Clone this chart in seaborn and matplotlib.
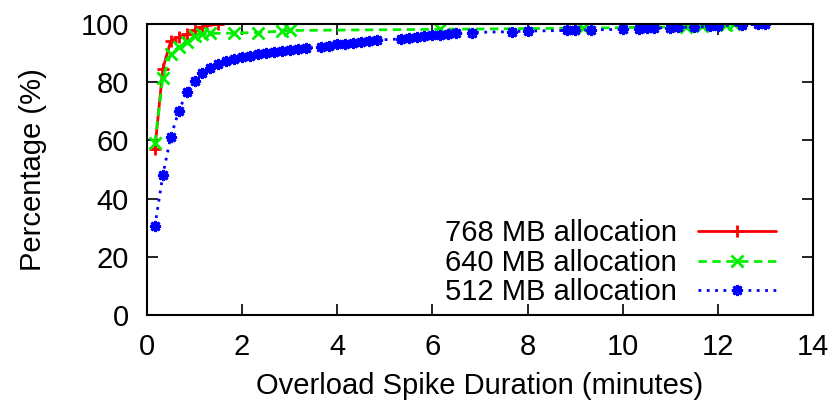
import matplotlib
matplotlib.use("Agg")
import matplotlib.pyplot as plt
import seaborn as sns

# spike durations in seconds (10 s bins) and cumulative percentage
red_sec = [10, 20, 30, 40, 50, 60, 70, 90]
red_pct = [57.0, 84.6, 94.2, 95.4, 96.5, 98.0, 99.1, 100.0]

green_sec = [10, 20, 30, 40, 50, 60, 70, 80, 110, 140, 170, 180, 370, 550, 680, 700, 730, 740]
green_pct = [59.0, 81.5, 89.7, 92.1, 93.7, 95.8, 96.5, 96.8, 96.9, 97.1, 97.6, 97.8,
             98.2, 98.6, 99.1, 99.4, 99.7, 100.0]

blue_sec = [10, 20, 30, 40, 50, 60, 70, 80, 90, 100, 110,
            120, 130, 140, 150, 160, 170, 180, 190, 200,
            220, 230, 240, 250, 260, 270, 280, 290,
            320, 330, 340, 350, 360, 370, 380, 390,
            410, 460, 480, 530, 540, 560, 600, 620, 630, 640,
            660, 670, 690, 710, 720, 750, 770, 780]
blue_pct = [30.5, 48.1, 61.2, 70.0, 76.5, 80.5, 83.2, 85.0, 86.3, 87.2, 88.0,
            88.6, 89.1, 89.6, 90.0, 90.4, 90.8, 91.1, 91.4, 91.7,
            92.2, 92.6, 93.0, 93.3, 93.6, 93.9, 94.2, 94.5,
            94.9, 95.2, 95.5, 95.8, 96.1, 96.3, 96.6, 96.8,
            97.1, 97.4, 97.6, 97.8, 97.9, 98.0, 98.2, 98.4, 98.5, 98.6,
            98.8, 98.9, 99.0, 99.2, 99.4, 99.7, 99.9, 100.0]

labels = ["768 MB allocation", "640 MB allocation", "512 MB allocation"]
x_ticks = [0, 2, 4, 6, 8, 10, 12, 14]
y_ticks = [0, 20, 40, 60, 80, 100]

sns.set_style("ticks")
plt.rcParams['font.family'] = ['Liberation Sans', 'DejaVu Sans']
plt.rcParams['font.size'] = 21
for key in ['text.color', 'axes.labelcolor', 'xtick.color', 'ytick.color']:
    plt.rcParams[key] = 'black'

fig, ax = plt.subplots(figsize=(8.35, 4.08), dpi=100)
fig.subplots_adjust(left=0.176, right=0.9737, top=0.941, bottom=0.228)

sns.lineplot(x=[s / 60 for s in red_sec], y=red_pct, ax=ax, sort=False, estimator=None,
             color="#ff0000", linewidth=2, linestyle="-", marker="+", markersize=9,
             markeredgewidth=2, markeredgecolor="#ff0000", label=labels[0])
sns.lineplot(x=[s / 60 for s in green_sec], y=green_pct, ax=ax, sort=False, estimator=None,
             color="#00f000", linewidth=2, linestyle=(0, (3, 2)), marker="x", markersize=8,
             markeredgewidth=2, markeredgecolor="#00f000", label=labels[1])
sns.lineplot(x=[s / 60 for s in blue_sec], y=blue_pct, ax=ax, sort=False, estimator=None,
             color="#0000ff", linewidth=2, linestyle=(0, (1, 2)), marker=(8, 2, 0), markersize=8,
             markeredgewidth=2, markeredgecolor="#0000ff", label=labels[2])

ax.set_xlim(0, 14)
ax.set_ylim(0, 100)
ax.set_xticks(x_ticks)
ax.set_yticks(y_ticks)
ax.tick_params(direction="in", top=True, right=True, length=8, width=1.2, pad=13)
for sp in ax.spines.values():
    sp.set_visible(True)
    sp.set_linewidth(1.5)
    sp.set_color("black")

ax.set_xlabel("Overload Spike Duration (minutes)", labelpad=8)
ax.set_ylabel("Percentage (%)", labelpad=24)

ax.legend(loc="lower right", bbox_to_anchor=(0.945, 0.03), frameon=False, markerfirst=False,
          numpoints=1, handlelength=2.7, handletextpad=0.7, labelspacing=0.05,
          borderpad=0, borderaxespad=0)

plt.savefig("out.png", dpi=100)
